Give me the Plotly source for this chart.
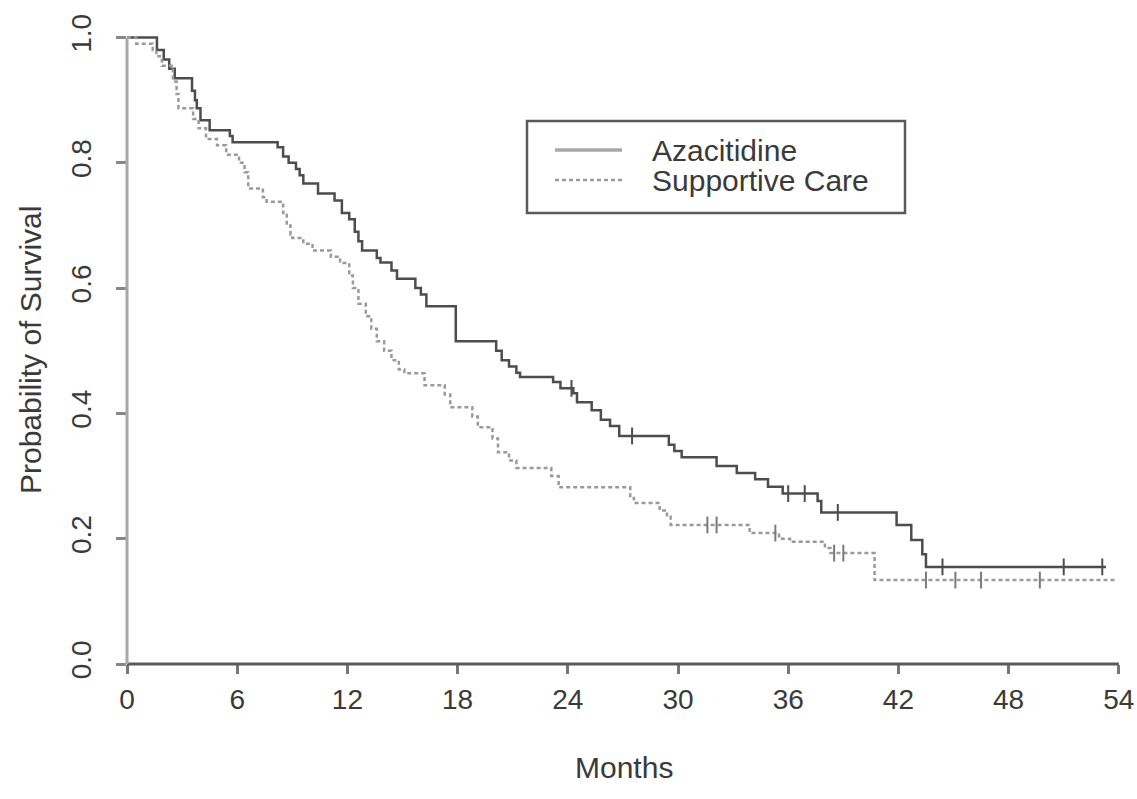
import plotly.graph_objects as go

# ---------------- data ----------------
month_ticks = [0, 6, 12, 18, 24, 30, 36, 42, 48, 54]
surv_ticks = [0.0, 0.2, 0.4, 0.6, 0.8, 1.0]
surv_tick_labels = ["0.0", "0.2", "0.4", "0.6", "0.8", "1.0"]

series_names = ["Azacitidine", "Supportive Care"]

aza_time = [0, 1.63, 2.0, 2.3, 2.6, 3.54, 3.7, 3.8, 4.0, 4.5, 5.6, 5.75, 8.2, 8.5, 8.8,
            9.2, 9.4, 9.6, 10.4, 11.3, 11.7, 12.1, 12.4, 12.6, 12.8, 13.6, 13.8, 14.4,
            14.7, 15.7, 16.0, 16.3, 17.9, 20.1, 20.4, 20.8, 21.2, 21.4, 23.2, 23.6, 24.3,
            24.5, 25.3, 25.8, 26.3, 26.8, 29.5, 29.8, 30.2, 32.1, 33.2, 34.2, 34.9, 35.7,
            37.6, 37.8, 41.9, 42.7, 43.3, 43.5]
aza_surv = [1.0, 0.98, 0.965, 0.95, 0.935, 0.915, 0.9, 0.887, 0.868, 0.852, 0.843, 0.833,
            0.825, 0.81, 0.8, 0.79, 0.78, 0.767, 0.751, 0.74, 0.72, 0.71, 0.69, 0.675, 0.66,
            0.648, 0.641, 0.628, 0.615, 0.6, 0.59, 0.571, 0.515, 0.5, 0.485, 0.475, 0.465,
            0.458, 0.45, 0.44, 0.432, 0.418, 0.405, 0.39, 0.38, 0.364, 0.35, 0.34, 0.33,
            0.316, 0.305, 0.295, 0.283, 0.272, 0.26, 0.242, 0.222, 0.198, 0.175, 0.155]
aza_last = 53.3
aza_censor = [24.2, 27.5, 36.0, 36.9, 38.7, 44.4, 51.0, 53.1]

sc_time = [0, 0.5, 1.4, 1.6, 1.9, 2.5, 2.7, 2.8, 3.6, 3.9, 4.3, 4.9, 5.4, 6.1, 6.4, 6.6,
           7.4, 7.6, 8.5, 8.7, 8.9, 9.0, 9.6, 10.1, 11.1, 11.6, 12.1, 12.3, 12.6, 13.0,
           13.3, 13.6, 14.0, 14.4, 14.8, 15.1, 16.2, 17.3, 17.6, 18.8, 19.1, 19.9, 20.2,
           20.8, 21.2, 23.1, 23.5, 27.4, 27.6, 29.0, 29.4, 29.6, 33.9, 35.5, 36.1, 38.0,
           38.3, 40.7]
sc_surv = [1.0, 0.99, 0.98, 0.97, 0.955, 0.93, 0.91, 0.887, 0.87, 0.855, 0.838, 0.828,
           0.813, 0.8, 0.785, 0.759, 0.745, 0.738, 0.72, 0.7, 0.685, 0.68, 0.671, 0.66,
           0.65, 0.64, 0.62, 0.6, 0.575, 0.555, 0.535, 0.515, 0.5, 0.485, 0.47, 0.464,
           0.445, 0.43, 0.41, 0.395, 0.378, 0.36, 0.338, 0.325, 0.313, 0.3, 0.282, 0.265,
           0.257, 0.245, 0.235, 0.222, 0.209, 0.2, 0.195, 0.185, 0.177, 0.134]
sc_last = 53.8
sc_censor = [31.6, 32.1, 35.3, 38.5, 39.0, 43.5, 45.1, 46.5, 49.7]


def step_value(times, survs, t):
    v = survs[0]
    for ti, si in zip(times, survs):
        if ti <= t:
            v = si
        else:
            break
    return v


AZA_COLOR = "#4d4d4d"
SC_COLOR = "#9a9a9a"
TXT = "#3a3a3a"
FONT = "Liberation Sans, Arial, Helvetica, sans-serif"

fig = go.Figure()

fig.add_trace(go.Scatter(
    x=aza_time + [aza_last], y=aza_surv + [aza_surv[-1]],
    mode="lines", line=dict(shape="hv", color=AZA_COLOR, width=2.5),
    name=series_names[0], showlegend=False))
fig.add_trace(go.Scatter(
    x=aza_censor, y=[step_value(aza_time, aza_surv, t) for t in aza_censor],
    mode="markers", marker=dict(symbol="line-ns-open", size=12, color=AZA_COLOR,
                                line=dict(color=AZA_COLOR, width=2)),
    showlegend=False, hoverinfo="skip"))

fig.add_trace(go.Scatter(
    x=sc_time + [sc_last], y=sc_surv + [sc_surv[-1]],
    mode="lines", line=dict(shape="hv", color=SC_COLOR, width=2.5, dash="4px,3px"),
    name=series_names[1], showlegend=False))
fig.add_trace(go.Scatter(
    x=sc_censor, y=[step_value(sc_time, sc_surv, t) for t in sc_censor],
    mode="markers", marker=dict(symbol="line-ns-open", size=12, color="#7a7a7a",
                                line=dict(color="#7a7a7a", width=2)),
    showlegend=False, hoverinfo="skip"))

# geometry
W, H = 1137, 799
ML, MR, MT, MB = 127, 9, 25, 135
XMAX, YMAX = 54.5, 1.02
pw, ph = W - ML - MR, H - MT - MB


def px(xp):
    return (xp - ML) / pw


def py(yp):
    return (H - MB - yp) / ph


shapes = [
    # axis lines
    dict(type="line", xref="paper", yref="paper", x0=0, x1=54 / XMAX, y0=0, y1=0,
         line=dict(color="#5a5a5a", width=3)),
    dict(type="line", xref="paper", yref="paper", x0=0, x1=0, y0=0, y1=1 / YMAX,
         line=dict(color="#a8a8a8", width=3)),
    # legend box
    dict(type="rect", xref="paper", yref="paper", x0=px(527), x1=px(905),
         y0=py(213), y1=py(121), line=dict(color="#5a5a5a", width=2.5),
         fillcolor="white", layer="above"),
    dict(type="line", xref="paper", yref="paper", x0=px(555), x1=px(622),
         y0=py(150), y1=py(150), line=dict(color="#a8a8a8", width=3.5)),
    dict(type="line", xref="paper", yref="paper", x0=px(555), x1=px(622),
         y0=py(180), y1=py(180), line=dict(color="#9a9a9a", width=2.5, dash="4px,3px")),
]

annotations = [
    dict(text=series_names[0], xref="paper", yref="paper", x=px(650), y=py(150),
         xanchor="left", yanchor="middle", showarrow=False,
         font=dict(family=FONT, size=30, color=TXT)),
    dict(text=series_names[1], xref="paper", yref="paper", x=px(650), y=py(181),
         xanchor="left", yanchor="middle", showarrow=False,
         font=dict(family=FONT, size=30, color=TXT)),
    dict(text="Probability of Survival", xref="paper", yref="paper", x=px(30), y=py(350),
         xanchor="center", yanchor="middle", textangle=-90, showarrow=False,
         font=dict(family=FONT, size=30, color=TXT)),
    dict(text="Months", xref="paper", yref="paper", x=px(624), y=py(768),
         xanchor="center", yanchor="middle", showarrow=False,
         font=dict(family=FONT, size=30, color=TXT)),
]

fig.update_layout(
    width=W, height=H,
    margin=dict(l=ML, r=MR, t=MT, b=MB, pad=0, autoexpand=False),
    paper_bgcolor="white", plot_bgcolor="white",
    showlegend=False,
    shapes=shapes, annotations=annotations,
    font=dict(family=FONT, size=29, color=TXT),
)
fig.update_xaxes(range=[0, XMAX], tickvals=month_ticks, ticks="outside", ticklen=9,
                 tickwidth=2.5, tickcolor="#777", showgrid=False, zeroline=False,
                 showline=False, ticklabelstandoff=1, automargin=False,
                 tickfont=dict(family=FONT, size=28, color=TXT))
fig.update_yaxes(range=[0, YMAX], tickvals=surv_ticks, ticktext=surv_tick_labels,
                 ticks="outside", ticklen=10, tickwidth=2.5, tickcolor="#888",
                 tickangle=-90, showgrid=False, zeroline=False, showline=False,
                 ticklabelstandoff=14, automargin=False,
                 tickfont=dict(family=FONT, size=28, color=TXT))

fig.write_html(
    "out.html",
    config={"displayModeBar": False},
    post_script="document.body.style.margin='0px';document.body.style.overflow='hidden';",
)
